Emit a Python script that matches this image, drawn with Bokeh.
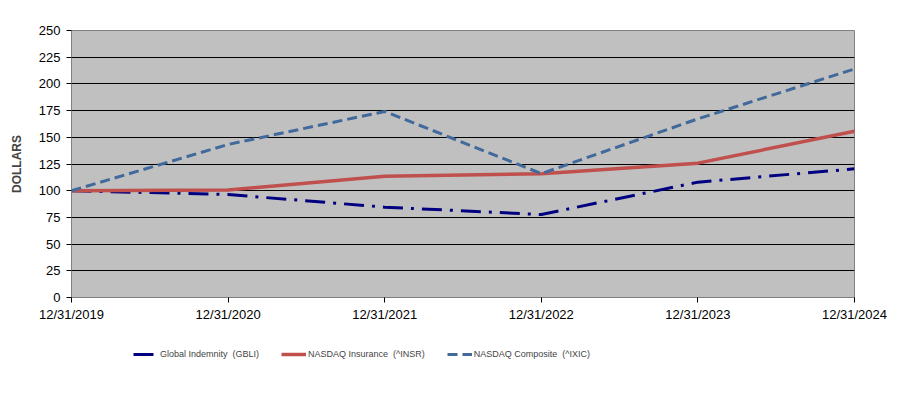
from bokeh.plotting import figure
from bokeh.layouts import column
from bokeh.models import Range1d, FixedTicker, Legend, LegendItem
from bokeh.embed import file_html
from bokeh.resources import INLINE

dates = ["12/31/2019", "12/31/2020", "12/31/2021", "12/31/2022", "12/31/2023", "12/31/2024"]
gbli = [100, 96.4, 84.6, 77.7, 108.0, 120.5]
insr = [100, 100.6, 113.6, 115.8, 125.8, 155.7]
ixic = [100, 143.3, 174.2, 116.0, 167.3, 214.0]
y_ticks = [0, 25, 50, 75, 100, 125, 150, 175, 200, 225, 250]
labels = ["Global Indemnity  (GBLI)", "NASDAQ Insurance  (^INSR)", "NASDAQ Composite  (^IXIC)"]

xs = list(range(len(dates)))

p = figure(width=897, height=327, output_backend="svg", toolbar_location=None,
           x_range=Range1d(0, len(dates) - 1), y_range=Range1d(0, 250),
           min_border_left=71, min_border_right=43, min_border_top=30, min_border_bottom=30)

p.background_fill_color = "#C0C0C0"
p.border_fill_color = "white"
p.outline_line_color = "#808080"
p.outline_line_width = 1

p.xgrid.grid_line_color = None
p.ygrid.grid_line_color = "black"
p.ygrid.grid_line_width = 1
p.ygrid.grid_line_alpha = 1.0

p.yaxis.ticker = FixedTicker(ticks=y_ticks)
p.xaxis.ticker = FixedTicker(ticks=xs)
p.xaxis.major_label_overrides = {i: d for i, d in enumerate(dates)}
p.xaxis.minor_tick_line_color = None
p.yaxis.minor_tick_line_color = None
for ax in (p.xaxis, p.yaxis):
    ax.axis_line_color = "#808080"
    ax.major_tick_line_color = "black"
    ax.major_tick_out = 5
    ax.major_tick_in = 0
    ax.major_label_text_font = "Liberation Sans"
    ax.major_label_text_font_size = "13px"
    ax.major_label_text_color = "black"
p.xaxis.major_label_standoff = 4
p.yaxis.major_label_standoff = 6
p.yaxis.axis_label = "DOLLARS"
p.yaxis.axis_label_text_font = "Liberation Sans"
p.yaxis.axis_label_text_font_style = "bold"
p.yaxis.axis_label_text_font_size = "12px"
p.yaxis.axis_label_standoff = 12

styles = [
    dict(line_color="#000080", line_width=3, line_dash="20 8 3 8"),
    dict(line_color="#C0504D", line_width=3.5),
    dict(line_color="#41699B", line_width=3, line_dash="10 5"),
]
for ys, st in zip([gbli, insr, ixic], styles):
    p.line(xs, ys, **st)

# legend strip below the chart (series drawn off-view so only legend swatches show)
q = figure(width=897, height=60, output_backend="svg", toolbar_location=None,
           x_range=Range1d(0, len(dates) - 1), y_range=Range1d(1000, 1001),
           min_border_left=71, min_border_right=43, min_border_top=0, min_border_bottom=0)
q.axis.visible = False
q.grid.visible = False
q.outline_line_color = None
q.background_fill_color = "white"
items = []
for ys, st, lab in zip([gbli, insr, ixic], styles, labels):
    r = q.line(xs, ys, **st)
    items.append(LegendItem(label=lab, renderers=[r]))

legend = Legend(items=items, orientation="horizontal", location=(62, 23))
legend.label_text_font = "Liberation Sans"
legend.label_text_font_size = "9px"
legend.glyph_width = 25
legend.label_standoff = 2
legend.spacing = 22
legend.padding = 0
legend.margin = 0
legend.border_line_color = None
legend.background_fill_color = None
q.add_layout(legend, "center")

layout = column(p, q, spacing=0)
open("out.html", "w").write(file_html(layout, INLINE))
